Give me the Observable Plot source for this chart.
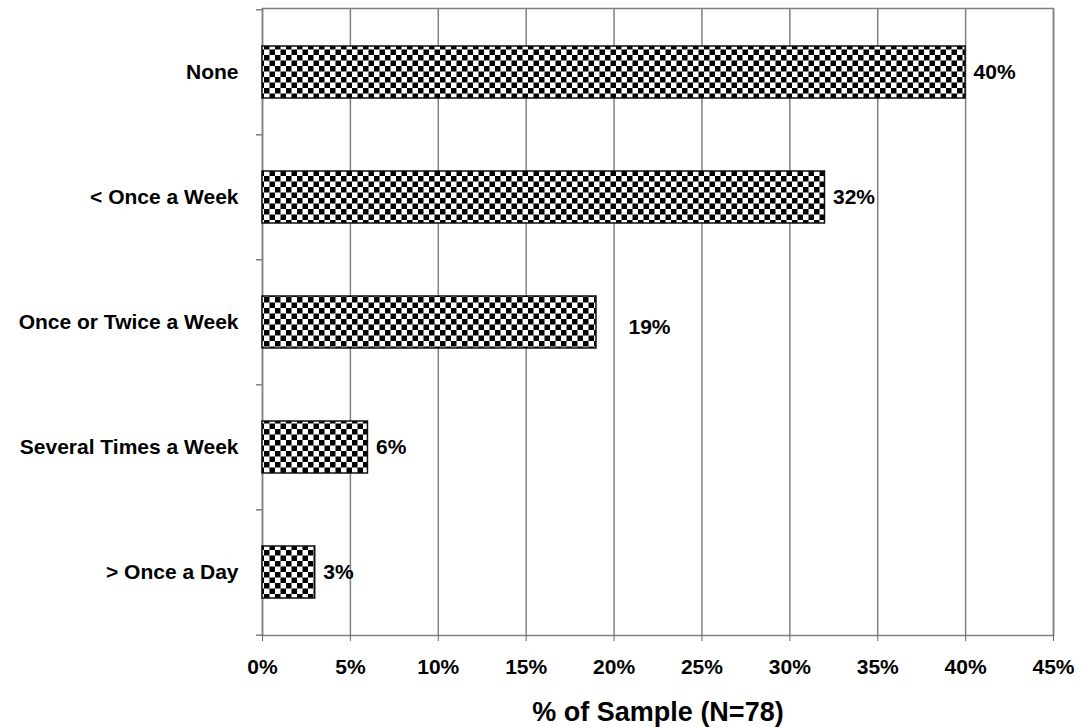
<!DOCTYPE html>
<html><head><meta charset="utf-8">
<script src="https://cdn.jsdelivr.net/npm/d3@7"></script>
<script src="https://cdn.jsdelivr.net/npm/@observablehq/plot@0.6"></script>
<style>
body{margin:0;background:#fff;}
svg{font-family:"Liberation Sans",Arial,sans-serif;}
</style>
</head><body><div id="chart"></div>
<script>
const categories = ["None", "< Once a Week", "Once or Twice a Week", "Several Times a Week", "> Once a Day"];
const percents = [40, 32, 19, 6, 3];
const xTicks = [0, 5, 10, 15, 20, 25, 30, 35, 40, 45];
const xLabel = "% of Sample (N=78)";

const data = categories.map((c, i) => ({category: c, value: percents[i], label: percents[i] + "%"}));

const W = 1083, H = 727, mL = 262, mR = 30, mT = 8, mB = 92;
const halfStep = (H - mT - mB) / categories.length / 2;
const farLabel = "Once or Twice a Week";

const chart = Plot.plot({
  width: W, height: H,
  marginLeft: mL, marginRight: mR, marginTop: mT, marginBottom: mB,
  style: {fontFamily: '"Liberation Sans", Arial, sans-serif', fontSize: "21px", fontWeight: "bold", color: "#000", background: "#fff", overflow: "visible"},
  x: {domain: [0, 45]},
  y: {domain: categories, paddingInner: 0.585, paddingOuter: 0.2925},
  marks: [
    Plot.ruleX(xTicks, {stroke: "#808080", strokeWidth: 1.5}),
    Plot.frame({stroke: "#808080", strokeWidth: 1.5}),
    Plot.barX(data, {x: "value", y: "category", fill: "url(#checker)", stroke: "#111", strokeWidth: 1.5}),
    Plot.axisX({ticks: xTicks, tickFormat: d => d + "%", tickSize: 6, tickPadding: 18, label: null, stroke: "#666", fill: "#000"}),
    Plot.axisY({tickSize: 0, tickPadding: 24, label: null, fill: "#000"}),
    Plot.ruleY(categories, {y: d => d, dy: -halfStep, x1: 0, x2: 0, insetLeft: -6, stroke: "#808080", strokeWidth: 1.5}),
    Plot.ruleY(categories.slice(-1), {y: d => d, dy: halfStep, x1: 0, x2: 0, insetLeft: -6, stroke: "#808080", strokeWidth: 1.5}),
    Plot.text(data.filter(d => d.category !== farLabel), {x: "value", y: "category", text: "label", textAnchor: "start", dx: 8, fill: "#000"}),
    Plot.text(data.filter(d => d.category === farLabel), {x: "value", y: "category", text: "label", textAnchor: "start", dx: 32, dy: 5, fill: "#000"}),
    Plot.text([xLabel], {frameAnchor: "bottom", lineAnchor: "middle", dy: 77, fontSize: 27, fill: "#000"})
  ]
});

const svg = d3.select(chart);
const defs = svg.insert("defs", ":first-child");
const pat = defs.append("pattern").attr("id", "checker").attr("patternUnits", "userSpaceOnUse").attr("width", 11).attr("height", 11);
pat.append("rect").attr("width", 11).attr("height", 11).attr("fill", "#fff");
pat.append("rect").attr("width", 5.5).attr("height", 5.5).attr("fill", "#000");
pat.append("rect").attr("x", 5.5).attr("y", 5.5).attr("width", 5.5).attr("height", 5.5).attr("fill", "#000");

document.getElementById("chart").appendChild(chart);
</script>
</body></html>
